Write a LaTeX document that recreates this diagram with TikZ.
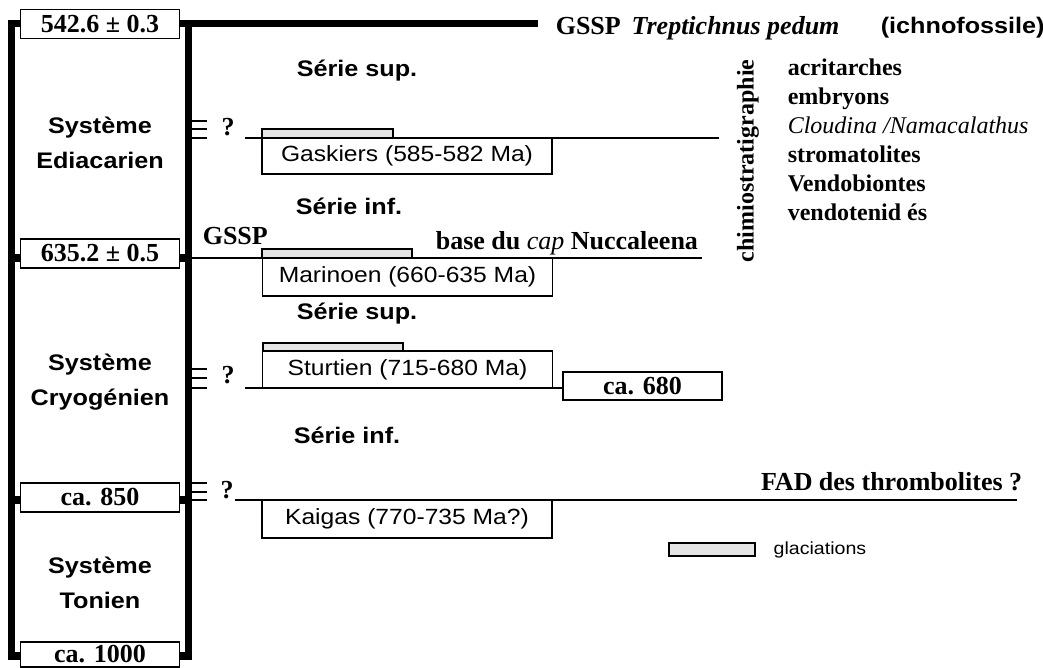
\documentclass[tikz,border=0pt]{standalone}
\usepackage{fontspec}
\setmainfont{Liberation Serif}
\newfontfamily\arl[FakeStretch=1.12]{Liberation Sans}
\usetikzlibrary{positioning}

\begin{document}
\begin{tikzpicture}[x=1pt, y=-1pt, line width=1.6pt,
	tm/.style={font=\bfseries\fontsize{26}{30}\selectfont, inner sep=0pt},
	sf/.style={font=\arl\bfseries\fontsize{22.5}{35}\selectfont, inner sep=0pt, align=center},
	age/.style={draw, fill=white, minimum width=159pt, minimum height=29pt, inner sep=0pt, font=\bfseries\fontsize{26}{30}\selectfont},
	glac/.style={draw, fill=white, minimum width=290pt, minimum height=37pt, inner sep=0pt, font=\arl\fontsize{22}{26}\selectfont},
	bar/.style={draw, fill=black!10}]
	\fill[white] (0,0) rectangle (1043,668);
	\useasboundingbox (0,0) rectangle (1043,668);
	% frame of the systems
	\draw[line width=7pt] (11.5,20) -- (11.5,660);
	\draw[line width=7pt] (188.5,20) -- (188.5,660);
	\draw[line width=7pt] (8,24) -- (538,24);
	\foreach \y in {258,500,656} {\draw[line width=8pt] (8,\y) -- (192,\y);}
	\node[age] (a542) at (100,24) {542.6 ± 0.3};
	\node[age] (a635) at (100,253.5) {635.2 ± 0.5};
	\node[age] (a850) at (100,497.5) {ca. 850};
	\node[age, minimum height=25pt] (a1000) at (100,654.5) {ca. 1000};
	\node[sf] (edia) at (100,142.5) {Système\\Ediacarien};
	\node[sf] (cryo) at (100,382.5) {Système\\Cryogénien};
	\node[sf] (toni) at (100,583) {Système\\Tonien};
	% uncertain limits
	\foreach \a/\b/\c in {121/129/138, 369/378/388, 483/492/500} {\foreach \y in {\a,\b,\c} {\draw (192,\y) -- (207,\y);}}
	\node[tm] (q1) at (228,127) {?};
	\node[tm] (q2) at (228,375) {?};
	\node[tm] (q3) at (227,490) {?};
	% glaciations
	\draw[bar] (262,129) rectangle (393,138);
	\draw[bar] (262,249) rectangle (412,258);
	\draw[bar] (263,343) rectangle (403,351);
	\draw (245,138) -- (719,138);
	\draw (192,258) -- (702,258);
	\draw (245,388) -- (563,388);
	\draw (235,500) -- (1017,500);
	\node[glac, minimum height=36pt] (gask) at (407,156) {Gaskiers (585-582 Ma)};
	\node[glac, minimum height=38pt] (mari) at (407.5,277) {Marinoen (660-635 Ma)};
	\node[glac] (stur) at (407.5,369.5) {Sturtien (715-680 Ma)};
	\node[glac, minimum height=38pt] (kaig) at (407,519) {Kaigas (770-735 Ma?)};
	\node[age, minimum height=28pt] (a680) at (642.5,386) {ca. 680};
	% series
	\node[sf, anchor=west] (s1) at (296,71) {Série sup.};
	\node[sf, anchor=west] (s2) at (295,206) {Série inf.};
	\node[sf, anchor=west] (s3) at (296,314) {Série sup.};
	\node[sf, anchor=west] (s4) at (293,435) {Série inf.};
	% markers
	\node[tm, anchor=base west] (gssp1) at (555,35) {GSSP \,\textit{Treptichnus pedum}};
	\node[sf, anchor=base west] (ichno) at (880,34) {(ichnofossile)};
	\node[tm, anchor=base west] (gssp2) at (202,244) {GSSP};
	\node[tm, anchor=base west] (nucc) at (435,250) {base du {\mdseries\itshape cap} Nuccaleena};
	\node[tm, anchor=base east] (fad) at (1023,490) {FAD des thrombolites ?};
	\node[tm, font=\bfseries\fontsize{24}{28}\selectfont, rotate=90] (chim) at (748,161) {chimiostratigraphie};
	\foreach \t [count=\i from 0] in {acritarches, embryons, {\mdseries\itshape Cloudina /Namacalathus}, stromatolites, Vendobiontes, vendotenid és}
		{\node[tm, font=\bfseries\fontsize{24}{28}\selectfont, anchor=base west] (bio\i) at (787,76+29*\i) {\t};}
	% legend
	\node[bar, minimum width=86pt, minimum height=13pt, inner sep=0pt] (leg) at (712,549.5) {};
	\node[right=17pt of leg, inner sep=0pt, font=\arl\fontsize{17.5}{20}\selectfont] (legt) {glaciations};
\end{tikzpicture}
\end{document}
